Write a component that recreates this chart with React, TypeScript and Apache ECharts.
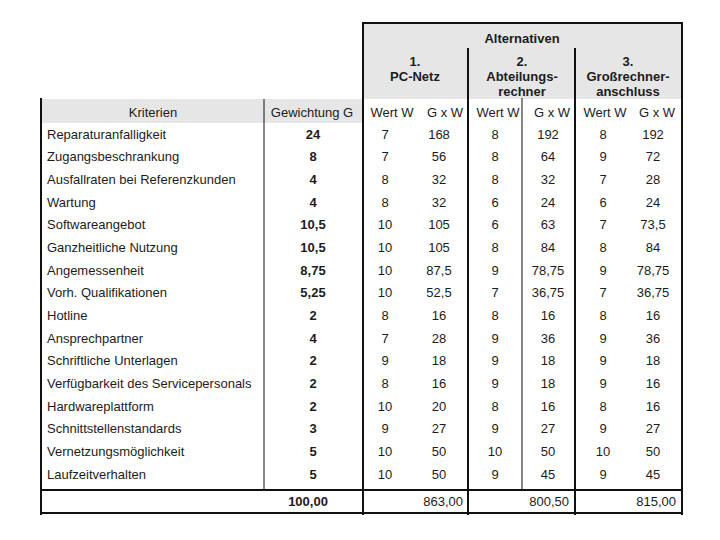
import React, { useEffect, useRef } from "react";
import * as echarts from "echarts";

// ---------- data ----------
const criteria = [
  "Reparaturanfalligkeit",
  "Zugangsbeschrankung",
  "Ausfallraten bei Referenzkunden",
  "Wartung",
  "Softwareangebot",
  "Ganzheitliche Nutzung",
  "Angemessenheit",
  "Vorh. Qualifikationen",
  "Hotline",
  "Ansprechpartner",
  "Schriftliche Unterlagen",
  "Verfügbarkeit des Servicepersonals",
  "Hardwareplattform",
  "Schnittstellenstandards",
  "Vernetzungsmöglichkeit",
  "Laufzeitverhalten",
];
const weights = [24, 8, 4, 4, 10.5, 10.5, 8.75, 5.25, 2, 4, 2, 2, 2, 3, 5, 5];
const weightTotal = 100;

const wert1 = [7, 7, 8, 8, 10, 10, 10, 10, 8, 7, 9, 8, 10, 9, 10, 10];
const gxw1 = [168, 56, 32, 32, 105, 105, 87.5, 52.5, 16, 28, 18, 16, 20, 27, 50, 50];
const total1 = 863;

const wert2 = [8, 8, 8, 6, 6, 8, 9, 7, 8, 9, 9, 9, 8, 9, 10, 9];
const gxw2 = [192, 64, 32, 24, 63, 84, 78.75, 36.75, 16, 36, 18, 18, 16, 27, 50, 45];
const total2 = 800.5;

const wert3 = [8, 9, 7, 6, 7, 8, 9, 7, 8, 9, 9, 9, 8, 9, 10, 9];
const gxw3 = [192, 72, 28, 24, 73.5, 84, 78.75, 36.75, 16, 36, 18, 16, 16, 27, 50, 45];
const total3 = 815;

const headerLabels = ["Kriterien", "Gewichtung G", "Wert W", "G x W"];
const groupTitle = "Alternativen";
const alternatives = [
  ["1.", "PC-Netz"],
  ["2.", "Abteilungs-", "rechner"],
  ["3.", "Großrechner-", "anschluss"],
];

// ---------- helpers ----------
const fmt = (v: number) => String(v).replace(".", ",");
const fmt2 = (v: number) => v.toFixed(2).replace(".", ",");

const FONT = "Liberation Sans";
const TXT = "#1c1c1c";
const GRAY = "#e6e6e6";

type Col = {
  x: number;
  align: "left" | "center" | "right";
  bold: boolean;
  texts: string[];
  total?: string;
  totalX?: number;
  totalAlign?: "left" | "center" | "right";
  totalBold?: boolean;
};

const columns: Col[] = [
  { x: 47, align: "left", bold: false, texts: criteria },
  { x: 313, align: "center", bold: true, texts: weights.map(fmt), total: fmt2(weightTotal), totalX: 308, totalAlign: "center", totalBold: true },
  { x: 385, align: "center", bold: false, texts: wert1.map(fmt) },
  { x: 439, align: "center", bold: false, texts: gxw1.map(fmt), total: fmt2(total1), totalX: 463, totalAlign: "right" },
  { x: 495, align: "center", bold: false, texts: wert2.map(fmt) },
  { x: 548, align: "center", bold: false, texts: gxw2.map(fmt), total: fmt2(total2), totalX: 569, totalAlign: "right" },
  { x: 603, align: "center", bold: false, texts: wert3.map(fmt) },
  { x: 653, align: "center", bold: false, texts: gxw3.map(fmt), total: fmt2(total3), totalX: 676, totalAlign: "right" },
];

const rowCats = [...criteria, "Summe"];
const TOTAL_ROW = criteria.length;

function txt(x: number, y: number, text: string, bold = false, align: any = "center") {
  return {
    type: "text",
    x,
    y,
    silent: true,
    style: {
      text,
      fill: TXT,
      font: `${bold ? "bold " : ""}13px "${FONT}"`,
      textAlign: align,
      textVerticalAlign: "middle",
    },
  };
}

function line(x1: number, y1: number, x2: number, y2: number, w: number) {
  return {
    type: "line",
    silent: true,
    shape: { x1, y1, x2, y2 },
    style: { stroke: "#111", lineWidth: w },
  };
}

export default function App() {
  const ref = useRef<HTMLDivElement>(null);

  useEffect(() => {
    document.body.style.margin = "0";
    if (!ref.current) return;
    const chart = echarts.init(ref.current, undefined, { renderer: "svg" });

    const series = columns.map((col) => {
      const data: number[][] = col.texts.map((_, i) => [0, i]);
      if (col.total !== undefined) data.push([0, TOTAL_ROW]);
      return {
        type: "custom",
        coordinateSystem: "cartesian2d",
        clip: false,
        encode: { x: 0, y: 1 },
        data,
        renderItem: (params: any, api: any) => {
          const row = api.value(1);
          const pt = api.coord([0, row]);
          const isTotal = row === TOTAL_ROW;
          const text = isTotal ? col.total : col.texts[params.dataIndex];
          const bold = isTotal ? !!col.totalBold : col.bold;
          return {
            type: "text",
            x: isTotal ? col.totalX : col.x,
            y: pt[1] + (isTotal ? 5 : 0),
            style: {
              text,
              fill: TXT,
              font: `${bold ? "bold " : ""}13px "${FONT}"`,
              textAlign: isTotal ? col.totalAlign : col.align,
              textVerticalAlign: "middle",
            },
          };
        },
      };
    });

    const graphic: any[] = [
      // gray header fills
      { type: "rect", silent: true, z: -10, shape: { x: 363, y: 23, width: 319, height: 76 }, style: { fill: GRAY } },
      { type: "rect", silent: true, z: -10, shape: { x: 41, y: 99, width: 322, height: 24 }, style: { fill: GRAY } },
      // vertical lines
      line(41, 98, 41, 515, 2),
      line(264, 99, 264, 490, 1),
      line(363, 22, 363, 515, 2),
      line(468, 48, 468, 515, 2),
      line(522, 98, 522, 490, 1),
      line(575, 48, 575, 515, 2),
      line(682, 22, 682, 515, 2),
      // horizontal lines
      line(362, 23, 683, 23, 2),
      line(40, 490, 683, 490, 2),
      line(40, 513, 683, 513, 2),
      // header texts
      txt(522, 38, groupTitle, true),
      txt(415, 61, alternatives[0][0], true),
      txt(415, 76, alternatives[0][1], true),
      txt(522, 61, alternatives[1][0], true),
      txt(522, 76, alternatives[1][1], true),
      txt(522, 91, alternatives[1][2], true),
      txt(628, 61, alternatives[2][0], true),
      txt(628, 76, alternatives[2][1], true),
      txt(628, 91, alternatives[2][2], true),
      txt(153, 112, headerLabels[0]),
      txt(312, 112, headerLabels[1]),
      txt(392, 112, headerLabels[2]),
      txt(445, 112, headerLabels[3]),
      txt(498, 112, headerLabels[2]),
      txt(552, 112, headerLabels[3]),
      txt(605, 112, headerLabels[2]),
      txt(657, 112, headerLabels[3]),
    ];

    chart.setOption({
      animation: false,
      backgroundColor: "#ffffff",
      grid: { left: 0, right: 0, top: 122.67, height: 17 * 22.667 },
      xAxis: { type: "value", min: 0, max: 1, show: false },
      yAxis: { type: "category", data: rowCats, inverse: true, show: false },
      graphic,
      series,
    });

    return () => chart.dispose();
  }, []);

  return <div ref={ref} style={{ width: 720, height: 540 }} />;
}
